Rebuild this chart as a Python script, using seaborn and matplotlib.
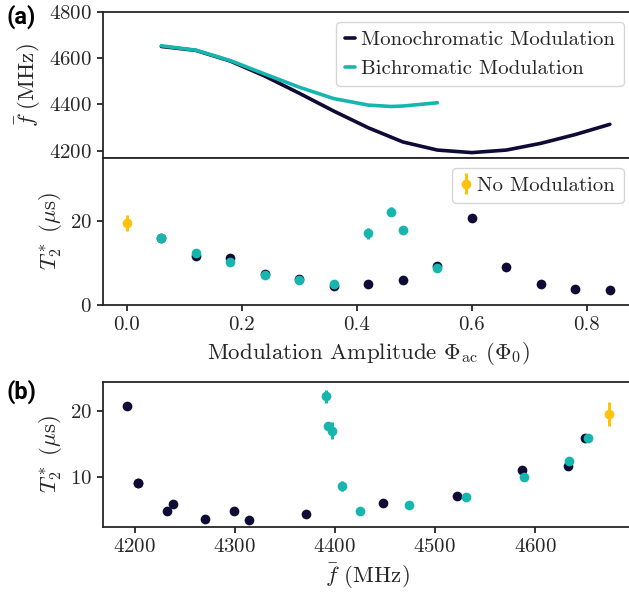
import numpy as np
import pandas as pd
import matplotlib
matplotlib.use("Agg")
import matplotlib.pyplot as plt
import seaborn as sns
from matplotlib.ticker import FuncFormatter

# ---------------- data ----------------
mono_amp = [0.06, 0.12, 0.18, 0.24, 0.30, 0.36, 0.42, 0.48, 0.54, 0.60, 0.66, 0.72, 0.78, 0.84]
mono_freq = [4650, 4633, 4587, 4522, 4448, 4371, 4299, 4238, 4203, 4192, 4203, 4232, 4270, 4314]
mono_t2 = [16.0, 11.75, 11.1, 7.25, 6.1, 4.5, 4.9, 6.05, 9.2, 20.7, 9.1, 4.9, 3.75, 3.55]
mono_err = [0.4, 0.6, 0.4, 0.3, 0.3, 0.3, 0.3, 0.3, 0.4, 0.5, 0.4, 0.3, 0.2, 0.2]

bi_amp = [0.06, 0.12, 0.18, 0.24, 0.30, 0.36, 0.42, 0.46, 0.48, 0.54]
bi_freq = [4653, 4634, 4589, 4531, 4474, 4425, 4397, 4391, 4393, 4407]
bi_t2 = [16.0, 12.4, 10.1, 7.05, 5.85, 4.9, 17.05, 22.2, 17.8, 8.7]
bi_err = [0.4, 0.6, 0.4, 0.3, 0.3, 0.3, 1.3, 1.0, 0.5, 0.7]

nomod_amp = [0.0]
nomod_freq = [4674]
nomod_t2 = [19.5]
nomod_err = [1.8]

labels = ["Monochromatic Modulation", "Bichromatic Modulation", "No Modulation"]

navy = "#0e0b36"
teal = "#16b6ae"
gold = "#fec10c"

# ---------------- style ----------------
sns.set_style("ticks")
plt.rcParams["font.family"] = ["cmr10", "DejaVu Serif"]
plt.rcParams["mathtext.fontset"] = "cm"
plt.rcParams["axes.formatter.use_mathtext"] = True
plt.rcParams["axes.unicode_minus"] = False
plt.rcParams["axes.linewidth"] = 1.3
plt.rcParams["xtick.major.width"] = 1.3
plt.rcParams["ytick.major.width"] = 1.3
plt.rcParams["xtick.major.size"] = 4.5
plt.rcParams["ytick.major.size"] = 4.5
plt.rcParams["xtick.labelsize"] = 15
plt.rcParams["ytick.labelsize"] = 15
plt.rcParams["axes.labelsize"] = 16.5

W, H = 629, 597
fig = plt.figure(figsize=(W / 100, H / 100), dpi=100)

def rect(x0, y0, x1, y1):
    return [x0 / W, 1 - y1 / H, (x1 - x0) / W, (y1 - y0) / H]

ax1 = fig.add_axes(rect(102.7, 11.7, 634, 157.7))
ax2 = fig.add_axes(rect(102.7, 157.7, 634, 305), sharex=ax1)
ax3 = fig.add_axes(rect(102.7, 381.7, 633, 527))

# ---------------- top: frequency vs amplitude ----------------
df_mono = pd.DataFrame({"amp": mono_amp, "freq": mono_freq, "t2": mono_t2, "err": mono_err})
df_bi = pd.DataFrame({"amp": bi_amp, "freq": bi_freq, "t2": bi_t2, "err": bi_err})

sns.lineplot(data=df_mono, x="amp", y="freq", ax=ax1, color=navy, lw=2.6, label=labels[0])
sns.lineplot(data=df_bi, x="amp", y="freq", ax=ax1, color=teal, lw=2.6, label=labels[1])
ax1.set_ylim(4170, 4800)
ax1.set_yticks([4200, 4400, 4600, 4800])
ax1.set_xlim(-0.042, 0.882)
ax1.set_xlabel("")
ax1.set_ylabel(r"$\bar{f}\ (\mathrm{MHz})$")
ax1.tick_params(axis="x", labelbottom=False)
ax1.legend(loc="upper right", fontsize=15, handlelength=0.5, handletextpad=0.3,
           borderaxespad=0.5, framealpha=0.8, fancybox=True)

# ---------------- middle: T2 vs amplitude ----------------
ekw = dict(fmt="o", ms=7, elinewidth=2.2, capsize=0, mew=0)
ax2.errorbar(df_mono["amp"], df_mono["t2"], yerr=df_mono["err"], color=navy, **ekw)
ax2.errorbar(df_bi["amp"], df_bi["t2"], yerr=df_bi["err"], color=teal, **ekw)
ax2.errorbar(nomod_amp, nomod_t2, yerr=nomod_err, color=gold, label=labels[2], **ekw)
ax2.set_ylim(0, 35)
ax2.set_yticks([0, 20])
ax2.set_xticks([0.0, 0.2, 0.4, 0.6, 0.8])
ax2.xaxis.set_major_formatter(FuncFormatter(lambda v, p: f"{v:.1f}"))
ax2.set_ylabel(r"$T_2^*\ (\mu\mathrm{s})$")
ax2.set_xlabel(r"Modulation Amplitude $\Phi_\mathrm{ac}$ $(\Phi_0)$")
ax2.legend(loc="upper right", fontsize=15, handlelength=0.5, handletextpad=0.3,
           borderaxespad=0.5, framealpha=0.8, fancybox=True)

# ---------------- bottom: T2 vs frequency ----------------
ax3.errorbar(df_mono["freq"], df_mono["t2"], yerr=df_mono["err"], color=navy, **ekw)
ax3.errorbar(df_bi["freq"], df_bi["t2"], yerr=df_bi["err"], color=teal, **ekw)
ax3.errorbar(nomod_freq, nomod_t2, yerr=nomod_err, color=gold, **ekw)
ax3.set_xlim(4168, 4698)
ax3.set_ylim(2.55, 24.4)
ax3.set_xticks([4200, 4300, 4400, 4500, 4600])
ax3.set_yticks([10, 20])
ax3.set_ylabel(r"$T_2^*\ (\mu\mathrm{s})$")
ax3.set_xlabel(r"$\bar{f}$ (MHz)")

for ax in (ax1, ax2, ax3):
    for s in ("top", "left", "bottom"):
        ax.spines[s].set_visible(True)
    ax.spines["right"].set_visible(False)

panel_kw = dict(fontsize=17, fontweight="bold", fontstretch="normal",
                family=["Roboto", "DejaVu Sans"], va="top", ha="left", color="black")
fig.text(6 / W, 1 - 5 / H, "(a)", **panel_kw)
fig.text(6 / W, 1 - 380 / H, "(b)", **panel_kw)

fig.savefig("out.png", dpi=100)
